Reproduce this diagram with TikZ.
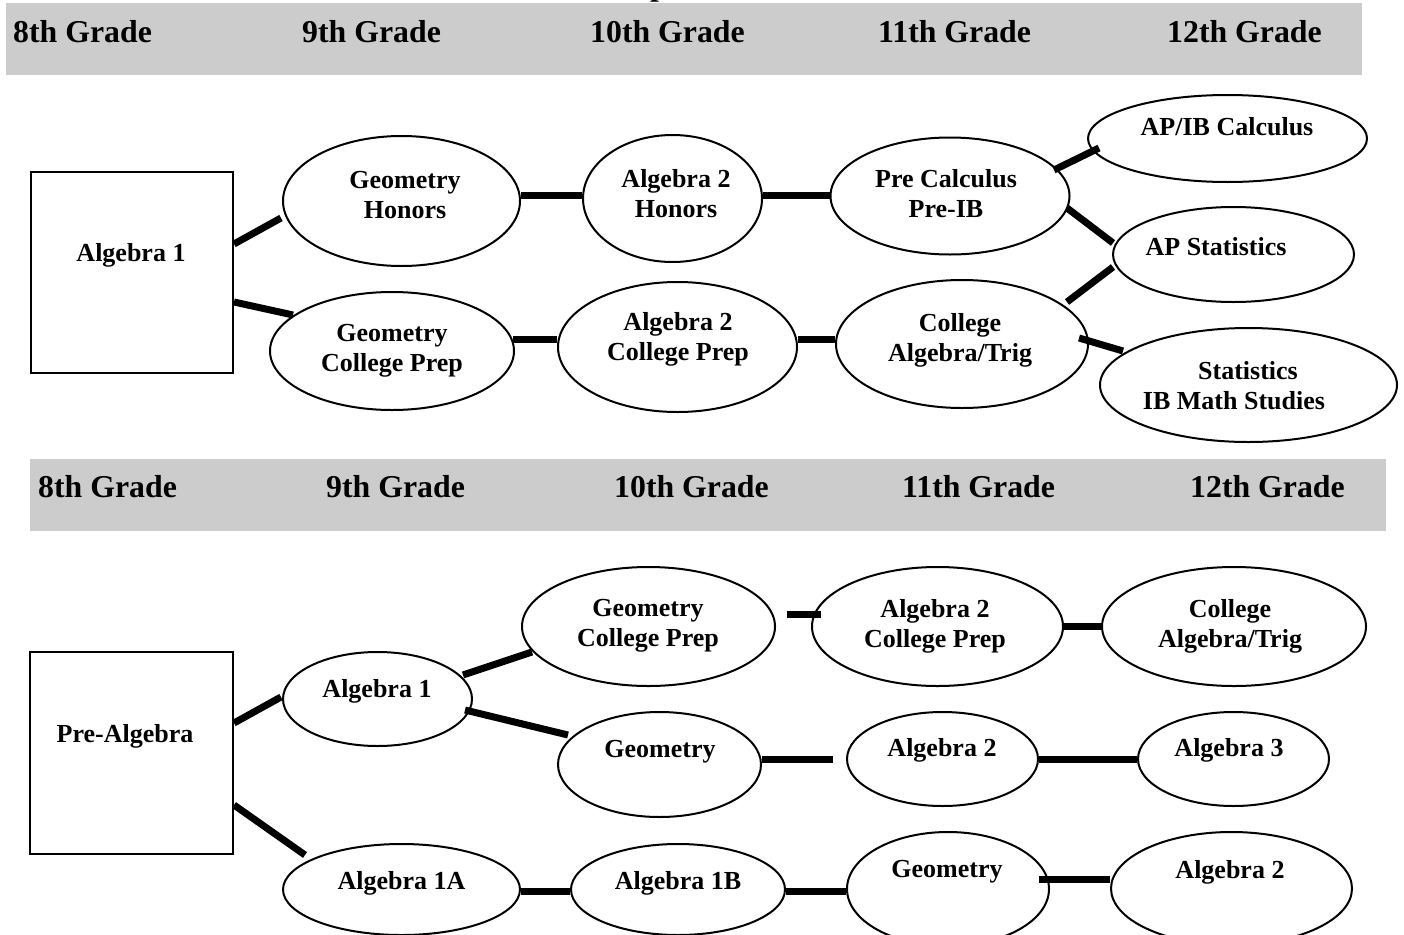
\documentclass[tikz,border=0pt]{standalone}
\usepackage{fontspec}
\setmainfont{Liberation Serif}
\usetikzlibrary{calc,shapes.geometric}
\definecolor{bandgray}{HTML}{CCCCCC}
\begin{document}
\begin{tikzpicture}[x=1pt,y=-1pt,
  ell/.style={draw, line width=2pt, ellipse, inner sep=0pt},
  box/.style={draw, line width=2pt, rectangle, inner sep=0pt},
  lbl/.style={font=\fontsize{26}{30}\selectfont\bfseries, align=center, inner sep=0pt},
  hdr/.style={font=\fontsize{31.8}{36}\selectfont\bfseries, anchor=base west, inner sep=0pt},
  conn/.style={line width=7pt}]
\useasboundingbox (0,0) rectangle (1404,934);

% cut-off title fragment
\begin{scope}
  \clip (0,0) rectangle (1404,3);
  \node[hdr] (title) at (650,-4) {p};
\end{scope}

% grade bands
\fill[bandgray] (6,3) rectangle (1362,75);
\fill[bandgray] (30,459) rectangle (1386,531);

\node[hdr] (h1a) at (13,42) {8th Grade};
\node[hdr] (h1b) at (302,42) {9th Grade};
\node[hdr] (h1c) at (590,42) {10th Grade};
\node[hdr] (h1d) at (878,42) {11th Grade};
\node[hdr] (h1e) at (1167,42) {12th Grade};

\node[hdr] (h2a) at (38,497) {8th Grade};
\node[hdr] (h2b) at (326,497) {9th Grade};
\node[hdr] (h2c) at (614,497) {10th Grade};
\node[hdr] (h2d) at (902,497) {11th Grade};
\node[hdr] (h2e) at (1190,497) {12th Grade};

% ---------- top section ----------
\node[box, minimum width=202pt, minimum height=201pt] (a1) at (132,272.5) {};
\node[ell, minimum width=237pt, minimum height=130pt] (gh) at (401.5,201) {};
\node[ell, minimum width=179pt, minimum height=127pt] (a2h) at (672.5,198.5) {};
\node[ell, minimum width=244pt, minimum height=118pt] (gcp) at (392,351) {};
\node[ell, minimum width=239pt, minimum height=130pt] (a2cp) at (677.5,347) {};
\node[ell, minimum width=239pt, minimum height=117pt] (pc) at (950,196) {};
\node[ell, minimum width=252pt, minimum height=128pt] (cat) at (962,344) {};
\node[ell, minimum width=279pt, minimum height=87pt] (apib) at (1227.5,138.5) {};
\node[ell, minimum width=241pt, minimum height=95pt] (aps) at (1233.5,254.5) {};
\node[ell, minimum width=297pt, minimum height=114pt] (sib) at (1248.5,385) {};

\node[lbl] (a1t) at (131,255) {Algebra 1};
\node[lbl] (ght) at (405,195) {Geometry\\Honors};
\node[lbl] (a2ht) at (676,194) {Algebra 2\\Honors};
\node[lbl] (gcpt) at (392,351) {Geometry\\College Prep};
\node[lbl] (a2cpt) at (678,339) {Algebra 2\\College Prep};
\node[lbl] (pct) at (946,194) {Pre Calculus\\Pre-IB};
\node[lbl] (catt) at (960,340) {College\\Algebra/Trig};
\node[lbl] (apibt) at (1227,127) {AP/IB Calculus};
\node[lbl] (apst) at (1216,247) {AP Statistics};
\node[lbl] (sibt) at (1234,386) {\hspace*{28pt}Statistics\\IB Math Studies};

\draw[conn] ($(a1.east)+(0,-28.5)$) -- ($(gh.west)+(-1,17)$);
\draw[conn] ($(a1.east)+(0,29.5)$) -- ($(gcp.west)+(24,-36)$);
\draw[conn] ($(gh.east)+(0,-6)$) -- ($(a2h.west)+(0,-3.5)$);
\draw[conn] ($(gcp.east)+(-2,-12)$) -- ($(a2cp.west)+(0,-8)$);
\draw[conn] ($(a2h.east)+(0,-3.5)$) -- ($(pc.west)+(0,-1)$);
\draw[conn] ($(a2cp.east)+(0,-8)$) -- ($(cat.west)+(0,-5)$);
\draw[conn] ($(pc.east)+(-16.5,-26)$) -- ($(apib.west)+(12,9.5)$);
\draw[conn] ($(pc.east)+(-3.5,12)$) -- ($(aps.west)+(1,-11.5)$);
\draw[conn] ($(cat.east)+(-22,-42)$) -- ($(aps.west)+(1,12.5)$);
\draw[conn] ($(cat.east)+(-10,-6)$) -- ($(sib.west)+(24,-34)$);

% ---------- bottom section ----------
\node[box, minimum width=203pt, minimum height=202pt] (pa) at (131.5,753) {};
\node[ell, minimum width=189pt, minimum height=94pt] (b1) at (377.5,699) {};
\node[ell, minimum width=253pt, minimum height=119pt] (gcp2) at (648.5,626.5) {};
\node[ell, minimum width=203pt, minimum height=105pt] (geo2) at (659.5,764.5) {};
\node[ell, minimum width=237pt, minimum height=91pt] (a1a) at (401.5,889.5) {};
\node[ell, minimum width=214pt, minimum height=91pt] (a1b) at (678,889.5) {};
\node[ell, minimum width=251pt, minimum height=119pt] (a2cp2) at (937.5,626.5) {};
\node[ell, minimum width=264pt, minimum height=119pt] (cat2) at (1234,626.5) {};
\node[ell, minimum width=191pt, minimum height=94pt] (a2) at (942.5,759) {};
\node[ell, minimum width=191pt, minimum height=94pt] (a3) at (1233.5,759) {};
\node[ell, minimum width=202pt, minimum height=114pt] (geo3) at (948,889) {};
\node[ell, minimum width=241pt, minimum height=113pt] (a2b) at (1231.5,888.5) {};

\node[lbl] (pat) at (125,736) {Pre-Algebra};
\node[lbl] (b1t) at (377,691) {Algebra 1};
\node[lbl] (gcp2t) at (648,626) {Geometry\\College Prep};
\node[lbl] (geo2t) at (660,752) {Geometry};
\node[lbl] (a1at) at (401.5,883) {Algebra 1A};
\node[lbl] (a1bt) at (678,883) {Algebra 1B};
\node[lbl] (a2cp2t) at (935,626) {Algebra 2\\College Prep};
\node[lbl] (cat2t) at (1230,626) {College\\Algebra/Trig};
\node[lbl] (a2t) at (942,750) {Algebra 2};
\node[lbl] (a3t) at (1229,750) {Algebra 3};
\node[lbl] (geo3t) at (947,872) {Geometry};
\node[lbl] (a2bt) at (1230,872) {Algebra 2};

\draw[conn] ($(pa.east)+(0,-30)$) -- ($(b1.west)+(-1,-2)$);
\draw[conn] ($(pa.east)+(0,52)$) -- ($(a1a.west)+(23,-34.5)$);
\draw[conn] ($(b1.east)+(-10,-24)$) -- ($(gcp2.west)+(11,25.5)$);
\draw[conn] ($(b1.east)+(-8,11)$) -- ($(geo2.west)+(11,-29.5)$);
\draw[conn] ($(gcp2.east)+(11,-12)$) -- ($(a2cp2.west)+(10,-12)$);
\draw[conn] (a2cp2.east) -- (cat2.west);
\draw[conn] ($(geo2.east)+(0,-5.5)$) -- ($(a2.west)+(-13,0)$);
\draw[conn] (a2.east) -- (a3.west);
\draw[conn] ($(a1a.east)+(0,1.5)$) -- ($(a1b.west)+(0,1.5)$);
\draw[conn] ($(a1b.east)+(0,1.5)$) -- ($(geo3.west)+(0,2)$);
\draw[conn] ($(geo3.east)+(-11,-10)$) -- ($(a2b.west)+(0,-9.5)$);
\end{tikzpicture}
\end{document}
